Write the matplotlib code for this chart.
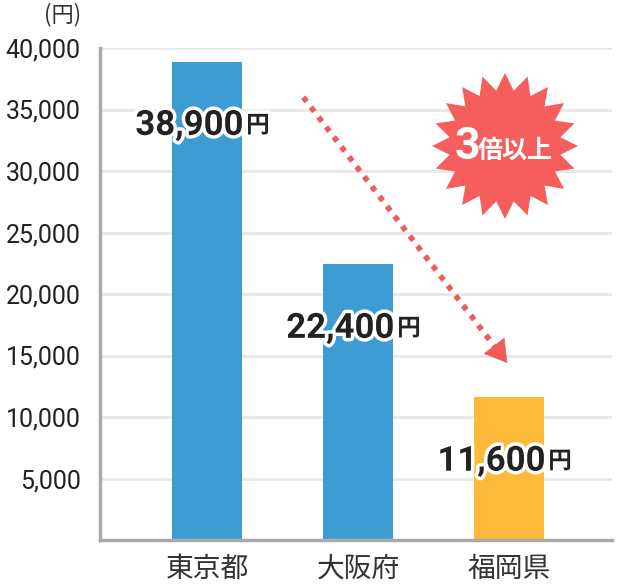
import numpy as np
import matplotlib
matplotlib.use('Agg')
import matplotlib.pyplot as plt
import matplotlib.patheffects as pe
from matplotlib.patches import Polygon

prefectures = ['東京都', '大阪府', '福岡県']
costs = [38900, 22400, 11600]
bar_colors = ['#3d9cd2', '#3d9cd2', '#fdb93a']
yticks = [5000, 10000, 15000, 20000, 25000, 30000, 35000, 40000]

NUM = ['Roboto', 'DejaVu Sans']
JP = ['Noto Sans CJK JP', 'DejaVu Sans']

W, H = 618, 588
fig = plt.figure(figsize=(W / 100, H / 100), dpi=100)
ax = fig.add_axes([100 / W, 48 / H, 512 / W, 492 / H])

x = np.arange(len(prefectures))
ax.bar(x, costs, width=0.465, color=bar_colors, zorder=2)

ax.set_xlim(-0.71, 2.68)
ax.set_ylim(0, 40000)
ax.set_yticks(yticks)
ax.set_yticklabels([f'{v:,}' for v in yticks], family=NUM, fontsize=18, color='#222222')
ax.set_xticks(x)
ax.set_xticklabels(prefectures, family=JP, fontsize=20, color='#333333')
ax.tick_params(axis='both', length=0)
ax.tick_params(axis='y', pad=14)
ax.tick_params(axis='x', pad=10)
ax.grid(axis='y', color='#e8e8e8', lw=2, zorder=0)
for s in ['top', 'right']:
    ax.spines[s].set_visible(False)
for s in ['left', 'bottom']:
    ax.spines[s].set_color('#aaaaaa')
    ax.spines[s].set_linewidth(2.5)

fig.text(63 / W, 1 - 15 / H, '(円)', family=JP, fontsize=16, color='#333333',
         ha='center', va='center')

# value labels with white outline
stroke = [pe.withStroke(linewidth=5, foreground='white')]
for xi, v in zip(x, costs):
    ax.annotate(f'{v:,}', xy=(xi, v), xytext=(26, -46), textcoords='offset points',
                ha='right', va='center', family=NUM, fontsize=25, fontweight='bold',
                color='#222222', path_effects=stroke, zorder=5)
    ax.annotate('円', xy=(xi, v), xytext=(28, -46), textcoords='offset points',
                ha='left', va='center', family=JP, fontsize=17, fontweight='bold',
                color='#222222', path_effects=stroke, zorder=5)

# dotted trend arrow: dotted shaft + solid head
red = '#ef5a5a'
ax.plot([0.636, 1.902], [36000, 15750], color=red, lw=4,
        linestyle=(0, (1, 1.25)), dash_capstyle='butt', zorder=4)
ax.annotate('', xy=(1.987, 14390), xytext=(1.902, 15750),
            arrowprops=dict(arrowstyle='-|>,head_length=1.0,head_width=0.6',
                            mutation_scale=15, color=red, lw=0.5,
                            shrinkA=0, shrinkB=0), zorder=4)

# starburst
cx, cy = 505, 146
n = 20
ang = np.linspace(0, 2 * np.pi, 2 * n, endpoint=False) + np.pi / 2
rad = np.where(np.arange(2 * n) % 2 == 0, 73, 56)
pts = np.column_stack([(cx + rad * np.cos(ang)) / W, 1 - (cy - rad * np.sin(ang)) / H])
fig.patches.append(Polygon(pts, closed=True, transform=fig.transFigure,
                           facecolor='#f65d5d', edgecolor='none', zorder=6))
fig.text(467 / W, 1 - 147 / H, '3', family=NUM, fontsize=32, fontweight='bold',
         color='white', ha='center', va='center', zorder=7)
fig.text(515 / W, 1 - 151 / H, '倍以上', family=JP, fontsize=18, fontweight='bold',
         color='white', ha='center', va='center', zorder=7)

fig.savefig('out.png', dpi=100, facecolor='white')
